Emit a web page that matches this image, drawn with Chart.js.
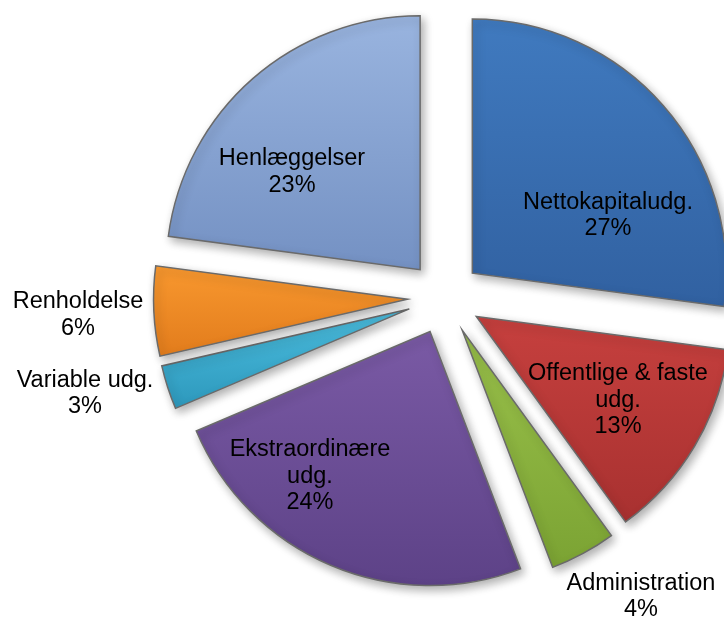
<!DOCTYPE html>
<html>
<head>
<meta charset="utf-8">
<script src="https://cdn.jsdelivr.net/npm/chart.js@4.4.1/dist/chart.umd.min.js"></script>
<style>
  html, body { margin: 0; padding: 0; background: #ffffff; }
  #wrap { width: 724px; height: 617px; position: relative; }
</style>
</head>
<body>
<div id="wrap"><canvas id="c"></canvas></div>
<script>
// ---- data (shares in %; labels show rounded %) ----
const categories = ['Nettokapitaludg.', 'Offentlige & faste udg.', 'Administration', 'Ekstraordinære udg.', 'Variable udg.', 'Renholdelse', 'Henlæggelser'];
const shares = [27.1, 12.9, 4.2, 24.4, 2.8, 5.7, 22.9];

// ---- styles ----
const colorTop    = ['#407ABF', '#C6403E', '#9AC14B', '#7A5AA5', '#4CBEDF', '#F8982F', '#99B4DF'];
const colorBottom = ['#3161A1', '#A83130', '#7BA333', '#5D4287', '#2D98BC', '#E27C1C', '#7491C3'];
const PIE_RADIUS = 254;
const EXPLODE = 37;
// label placement relative to each slice's apex: r = fraction of radius, da = angle shift (deg) from slice middle
const labelPlacement = [
  { r: 0.5826, da: 17.67 },
  { r: 0.6457, da: -0.56 },
  { r: 1.2587, da: -5.58 },
  { r: 0.7364, da: 16.88 },
  { r: 1.3180, da: 3.63 },
  { r: 1.2986, da: 0.22 },
  { r: 0.6378, da: -11.04 }
];
const FONT = '23.5px "Liberation Sans", Arial, sans-serif';
const LINE_H = 26.5;
const TEXT_DY = 1.5;
const WRAP_W = 195;

const total = shares.reduce((a, b) => a + b, 0);

function sliceAngles(i) {
  let before = 0;
  for (let k = 0; k < i; k++) before += shares[k];
  const s = -Math.PI / 2 + 2 * Math.PI * before / total;
  const e = s + 2 * Math.PI * shares[i] / total;
  return [s, e];
}

function sliceFill(ctx) {
  const chart = ctx.chart;
  const a = chart.chartArea;
  const i = ctx.dataIndex;
  if (!a) return colorTop[i];
  const cy = (a.top + a.bottom) / 2;
  const [s, e] = sliceAngles(i);
  let minY = cy, maxY = cy;
  const steps = 40;
  for (let k = 0; k <= steps; k++) {
    const t = s + (e - s) * k / steps;
    const y = cy + PIE_RADIUS * Math.sin(t);
    minY = Math.min(minY, y); maxY = Math.max(maxY, y);
  }
  const g = chart.ctx.createLinearGradient(0, minY, 0, maxY);
  g.addColorStop(0, colorTop[i]);
  g.addColorStop(1, colorBottom[i]);
  return g;
}

// exploded slices: translate each arc a fixed distance along its middle angle
const explodePlugin = {
  id: 'explode',
  beforeDatasetsDraw(chart) {
    const meta = chart.getDatasetMeta(0);
    meta.data.forEach(arc => {
      if (arc._explodePatched) return;
      const orig = arc.draw;
      arc.draw = function (ctx, area) {
        const h = (this.startAngle + this.endAngle) / 2;
        ctx.save();
        ctx.translate(Math.cos(h) * EXPLODE, Math.sin(h) * EXPLODE);
        orig.call(this, ctx, area);
        ctx.restore();
      };
      arc._explodePatched = true;
    });
    const c = chart.ctx;
    c.save();
    c.shadowColor = 'rgba(0,0,0,0.32)';
    c.shadowBlur = 10;
    c.shadowOffsetX = 3;
    c.shadowOffsetY = 4;
  },
  afterDatasetsDraw(chart) {
    chart.ctx.restore();
  }
};

function wrapText(c, text, maxW) {
  const words = text.split(' ');
  const lines = [];
  let cur = '';
  words.forEach(w => {
    const test = cur ? cur + ' ' + w : w;
    if (c.measureText(test).width > maxW && cur) { lines.push(cur); cur = w; }
    else cur = test;
  });
  if (cur) lines.push(cur);
  return lines;
}

const labelPlugin = {
  id: 'sliceLabels',
  afterDraw(chart) {
    const c = chart.ctx;
    const meta = chart.getDatasetMeta(0);
    c.save();
    c.font = FONT;
    c.fillStyle = '#000000';
    c.textAlign = 'center';
    c.textBaseline = 'middle';
    meta.data.forEach((arc, i) => {
      const h = (arc.startAngle + arc.endAngle) / 2;
      const ax = arc.x + Math.cos(h) * EXPLODE;
      const ay = arc.y + Math.sin(h) * EXPLODE;
      const p = labelPlacement[i];
      const ang = h + p.da * Math.PI / 180;
      const d = p.r * arc.outerRadius;
      const x = ax + Math.cos(ang) * d;
      const y = ay + Math.sin(ang) * d + TEXT_DY;
      const lines = wrapText(c, chart.data.labels[i], WRAP_W);
      lines.push(Math.round(shares[i] / total * 100) + '%');
      const y0 = y - (lines.length - 1) * LINE_H / 2;
      lines.forEach((ln, k) => c.fillText(ln, x, y0 + k * LINE_H));
    });
    c.restore();
  }
};

new Chart(document.getElementById('c'), {
  type: 'pie',
  data: {
    labels: categories,
    datasets: [{
      data: shares,
      backgroundColor: sliceFill,
      borderColor: '#6a6a6a',
      borderWidth: 1.5,
      borderJoinStyle: 'miter',
      offset: 0,
      hoverOffset: 0,
      clip: false
    }]
  },
  options: {
    responsive: true,
    maintainAspectRatio: false,
    animation: false,
    events: [],
    radius: PIE_RADIUS,
    layout: { padding: { left: 165, right: 0, top: 0, bottom: 22 } },
    plugins: {
      legend: { display: false },
      title: { display: false },
      tooltip: { enabled: false }
    }
  },
  plugins: [explodePlugin, labelPlugin]
});
</script>
</body>
</html>
